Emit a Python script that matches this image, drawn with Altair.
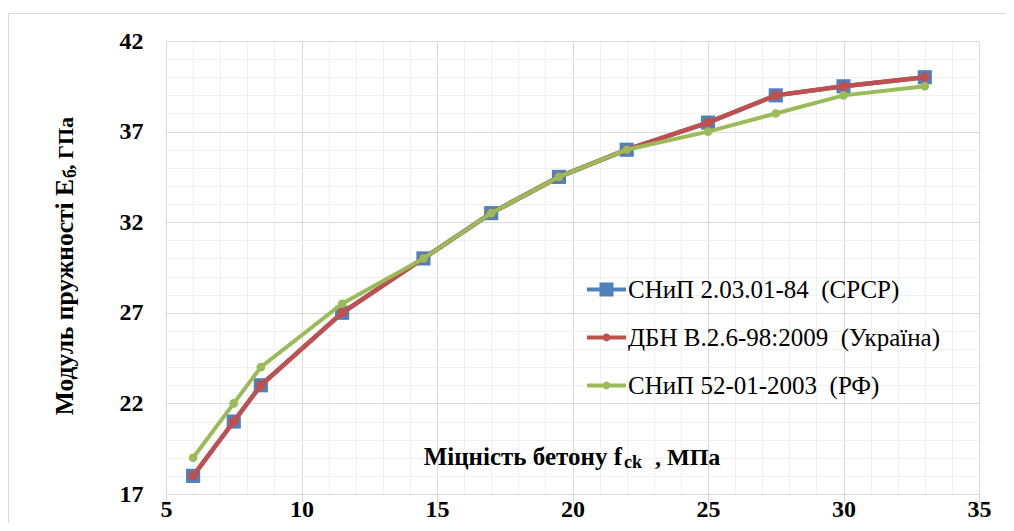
import altair as alt
import pandas as pd

# ---- data ----
x_vals = [6, 7.5, 8.5, 11.5, 14.5, 17, 19.5, 22, 25, 27.5, 30, 33]
snip84 = [18, 21, 23, 27, 30, 32.5, 34.5, 36, 37.5, 39, 39.5, 40]
dbn = [18, 21, 23, 27, 30, 32.5, 34.5, 36, 37.5, 39, 39.5, 40]
snip2003 = [19, 22, 24, 27.5, 30, 32.5, 34.5, 36, 37, 38, 39, 39.5]

series_names = [
    "СНиП 2.03.01-84\u00a0\u00a0(СРСР)",
    "ДБН В.2.6-98:2009\u00a0\u00a0(Україна)",
    "СНиП 52-01-2003\u00a0\u00a0(РФ)",
]
series_colors = ["#4F81BD", "#C0504D", "#9BBB59"]

x_major = [5, 10, 15, 20, 25, 30, 35]
y_major = [17, 22, 27, 32, 37, 42]
x_minor = [v for v in range(5, 36) if v not in x_major]
y_minor = [v for v in range(17, 43) if v not in y_major]

rows = []
for name, vals in zip(series_names, [snip84, dbn, snip2003]):
    for i, (xv, yv) in enumerate(zip(x_vals, vals)):
        rows.append({"series": name, "x": xv, "y": yv, "order": i})
df = pd.DataFrame(rows)
one = pd.DataFrame({"a": [0]})

FONT = "Liberation Serif, Times New Roman, DejaVu Serif, serif"
xscale = alt.Scale(domain=[5, 35], nice=False, zero=False)
yscale = alt.Scale(domain=[17, 42], nice=False, zero=False)

# ---- grid hosts ----
minor = alt.Chart(df).mark_line(opacity=0).encode(
    x=alt.X("x:Q", scale=xscale, axis=alt.Axis(values=x_minor, grid=True, gridColor="#f0f0f0",
                                                labels=False, ticks=False, domain=False,
                                                title=None, orient="bottom")),
    y=alt.Y("y:Q", scale=yscale, axis=alt.Axis(values=y_minor, grid=True, gridColor="#f0f0f0",
                                                labels=False, ticks=False, domain=False,
                                                title=None, orient="left")),
    detail="series:N",
)
major = alt.Chart(df).mark_line(opacity=0).encode(
    x=alt.X("x:Q", scale=xscale, axis=alt.Axis(values=x_major, grid=True, gridColor="#d9d9d9",
                                                ticks=True, tickSize=8, tickColor="#d9d9d9",
                                                domain=False, title=None, orient="bottom",
                                                labelFont=FONT, labelFontSize=24,
                                                labelFontWeight="bold", labelColor="black",
                                                labelPadding=-5, labelFlush=False,
                                                labelOverlap=False)),
    y=alt.Y("y:Q", scale=yscale, axis=alt.Axis(values=y_major, grid=True, gridColor="#d9d9d9",
                                                ticks=False, domain=False, title=None,
                                                orient="left", labelFont=FONT, labelFontSize=24,
                                                labelFontWeight="bold", labelColor="black",
                                                labelPadding=23, labelOverlap=False)),
    detail="series:N",
)

# ---- series ----
marker = {
    series_names[0]: dict(shape="square", size=200),
    series_names[1]: dict(shape="circle", size=90),
    series_names[2]: dict(shape="circle", size=75),
}
widths = {series_names[0]: 4.5, series_names[1]: 4.5, series_names[2]: 4}
series_layers = []
for name, color in zip(series_names, series_colors):
    base = alt.Chart(df).transform_filter(alt.datum.series == name)
    ln = base.mark_line(color=color, strokeWidth=widths[name]).encode(
        x=alt.X("x:Q", scale=xscale, axis=None),
        y=alt.Y("y:Q", scale=yscale, axis=None),
        order="order:Q",
    )
    pt = base.mark_point(filled=True, opacity=1, color=color, **marker[name]).encode(
        x=alt.X("x:Q", scale=xscale, axis=None),
        y=alt.Y("y:Q", scale=yscale, axis=None),
    )
    series_layers += [ln, pt]

# ---- legend (symbols = line + marker) ----
line_part = "M-1,-0.1H1V0.1H-1Z"
sq_sym = line_part + " M-0.36,-0.36H0.36V0.36H-0.36Z"
ci_sym = line_part + " M-0.2,0A0.2,0.2 0 1,1 0.2,0A0.2,0.2 0 1,1 -0.2,0Z"
leg = alt.Legend(orient="none", legendX=421, legendY=229, title=None, labelFont=FONT,
                 labelFontSize=25, labelColor="black", symbolSize=1521, symbolStrokeWidth=0,
                 rowPadding=15, labelOffset=2, padding=0, labelLimit=500)
legend_layer = alt.Chart(df).transform_filter("false").mark_point(filled=True, opacity=1).encode(
    color=alt.Color("series:N", scale=alt.Scale(domain=series_names, range=series_colors), legend=leg),
    shape=alt.Shape("series:N", scale=alt.Scale(domain=series_names, range=[sq_sym, ci_sym, ci_sym]), legend=leg),
)

# ---- titles ----
def txt(s, x, y, size, align="left", angle=0, weight="bold", baseline="alphabetic"):
    kw = dict(text=s, font=FONT, fontSize=size, fontWeight=weight, color="black",
              align=align, baseline=baseline)
    if angle:
        kw["angle"] = angle
    return alt.Chart(one).mark_text(**kw).encode(x=alt.value(x), y=alt.value(y))

titles = [
    txt("Міцність бетону f", 456, 424, 25, align="right"),
    txt("ck", 458, 427, 18),
    txt(", МПа", 489, 424, 24),
    txt("Модуль пружності Е", -93, 138, 25.5, align="right", angle=270),
    txt("б", -90, 137, 18, angle=270),
    txt(", ГПа", -93, 76, 22, align="right", angle=270),
]

border = alt.Chart(one).mark_rect(fillOpacity=0, stroke="#d9d9d9", strokeWidth=1).encode(
    x=alt.value(-157.5), x2=alt.value(900), y=alt.value(-27.5), y2=alt.value(700)
)

chart = alt.layer(border, minor, major, *series_layers, legend_layer, *titles).resolve_axis(
    x="independent", y="independent"
).properties(
    width=813, height=453,
    padding={"left": 158, "top": 33, "right": 27, "bottom": 29},
    autosize="none",
).configure_view(strokeWidth=0)

chart.save("out.html", embed_options={"renderer": "svg", "actions": False})
